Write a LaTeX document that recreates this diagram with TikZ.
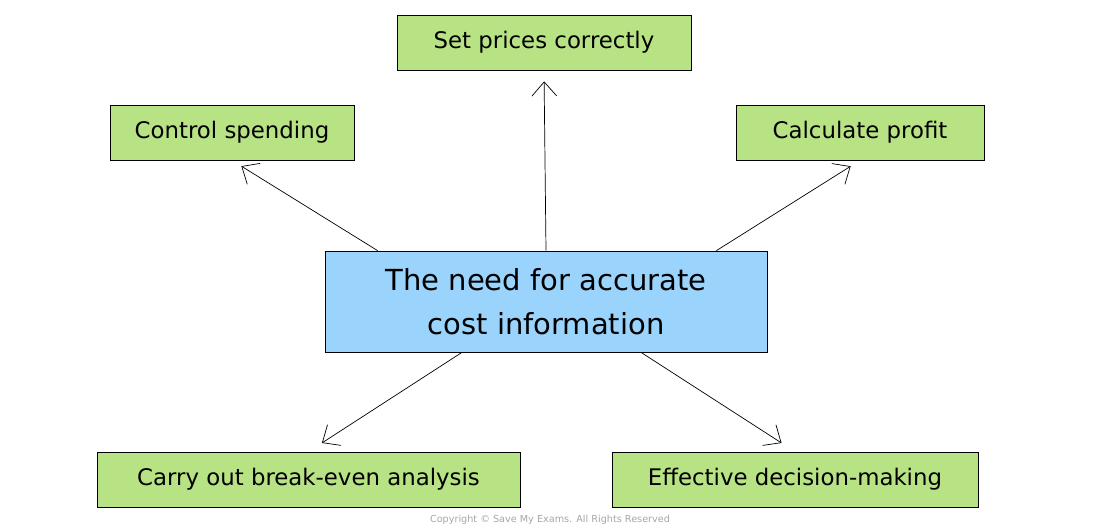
\documentclass[tikz,border=0pt]{standalone}
\usepackage{fontspec}
\setmainfont{DejaVu Sans}
\usetikzlibrary{arrows.meta,positioning}
\definecolor{boxgreen}{HTML}{B8E384}
\definecolor{boxblue}{HTML}{9AD4FD}
\begin{document}
\begin{tikzpicture}[x=0.02cm,y=-0.02cm]
            \tikzstyle{reason} = [rectangle, draw, fill=boxgreen, minimum height=55*0.02cm, inner sep=0pt, font=\fontsize{13}{16}\selectfont]
            \tikzstyle{arrow} = [-{Straight Barb[length=8pt,width=14pt]}, shorten >=11*0.02cm]

            \useasboundingbox (0,0) rectangle (1100,529);

            \node [rectangle, draw, fill=boxblue, minimum width=442*0.02cm, minimum height=101*0.02cm, align=center, font=\fontsize{16.5}{25}\selectfont] (need) at (546,301.5) {The need for accurate\\cost information};
            \node [reason, minimum width=294*0.02cm] (prices) at (544,42.5) {Set prices correctly};
            \node [reason, minimum width=244*0.02cm] (spend) at (232,132.5) {Control spending};
            \node [reason, minimum width=248*0.02cm] (profit) at (860,132.5) {Calculate profit};
            \node [reason, minimum width=423*0.02cm] (breakeven) at (308.5,479.5) {Carry out break-even analysis};
            \node [reason, minimum width=366*0.02cm] (decide) at (795,479.5) {Effective decision-making};

            \draw [arrow] ([xshift=53*0.02cm]need.north west) -- (spend.south);
            \draw [arrow] (need.north) -- (prices.south);
            \draw [arrow] ([xshift=-51*0.02cm]need.north east) -- (profit.south);
            \draw [arrow, shorten >=16*0.02cm] ([xshift=-84*0.02cm]need.south) -- (breakeven.north);
            \draw [arrow, shorten >=16*0.02cm] ([xshift=95*0.02cm]need.south) -- (decide.north);

            \node [text=gray!70, font=\fontsize{5.5}{7}\selectfont] (copy) at (550,520) {Copyright © Save My Exams. All Rights Reserved};
        \end{tikzpicture}
\end{document}
